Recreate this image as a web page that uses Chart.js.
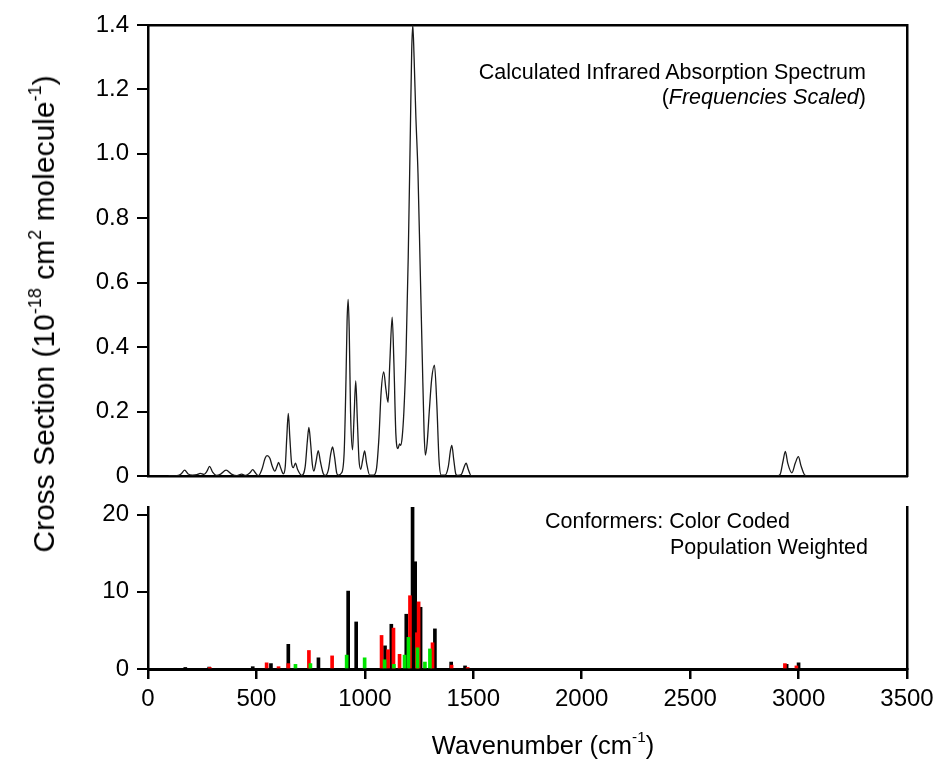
<!DOCTYPE html>
<html>
<head>
<meta charset="utf-8">
<script src="https://cdn.jsdelivr.net/npm/chart.js@4.4.1/dist/chart.umd.min.js"></script>
<style>
  body { margin: 0; background: #fff; width: 943px; height: 773px; position: relative; overflow: hidden;
         font-family: "Liberation Sans", Arial, sans-serif; color: #000; }
  #topWrap { position: absolute; left: 0; top: 0; }
  #botWrap { position: absolute; left: 0; top: 495px; }
  .note { position: absolute; font-size: 21.5px; white-space: nowrap; line-height: 1; }
  #ytitle { position: absolute; left: 44px; top: 314px; transform: translate(-50%, -50%) rotate(-90deg);
            font-size: 30px; white-space: nowrap; }
  #xtitle { position: absolute; left: 543px; top: 745px; transform: translate(-50%, -50%);
            font-size: 25.5px; white-space: nowrap; }
  sup { font-size: 0.6em; vertical-align: 0.75em; line-height: 0; }
</style>
</head>
<body>
<div id="topWrap"><canvas id="topChart" width="943" height="490"></canvas></div>
<div id="botWrap"><canvas id="botChart" width="943" height="278"></canvas></div>

<div class="note" style="right:77px; top:62px;">Calculated Infrared Absorption Spectrum</div>
<div class="note" style="right:77px; top:87px;">(<i>Frequencies Scaled</i>)</div>
<div class="note" style="left:545px; top:511px;">Conformers: Color Coded</div>
<div class="note" style="left:670px; top:537px;">Population Weighted</div>
<div id="ytitle">Cross Section (10<sup>-18</sup> cm<sup>2</sup> molecule<sup>-1</sup>)</div>
<div id="xtitle">Wavenumber (cm<sup>-1</sup>)</div>

<script>
// broadened spectrum
const spectrumX = [95, 140, 155, 169, 185, 205, 225, 241, 258, 272, 284, 298, 315, 335, 360, 385, 410, 432, 450,
  470, 483, 495, 509, 525, 540, 549, 562, 573, 585, 595, 602, 612, 624, 633, 640, 647, 654, 662, 670, 680,
  690, 708, 725, 735, 742, 750, 758, 765, 775, 785, 795, 808, 818, 832, 843, 851, 860, 870, 877, 893,
  905, 913, 918, 923, 928, 934, 943, 950, 958, 965, 973, 981, 990, 999, 1008, 1022, 1040, 1053, 1065,
  1075, 1087, 1097, 1107, 1115, 1126, 1134, 1143, 1153, 1160, 1165, 1172, 1180, 1190, 1200, 1210, 1216,
  1221, 1227, 1235, 1245, 1255, 1265, 1273, 1279, 1287, 1297, 1308, 1321, 1332, 1342, 1352, 1370, 1385,
  1395, 1401, 1410, 1420, 1428, 1445, 1460, 1467, 1477, 1490, 1550, 2900, 2915, 2928, 2939, 2950, 2969,
  2985, 2999, 3012, 3030, 3050, 3500];
const spectrumY = [0, 0.002, 0.008, 0.018, 0.006, 0.003, 0.004, 0.008, 0.005, 0.015, 0.03, 0.012, 0.002, 0.006,
  0.018, 0.006, 0.001, 0.006, 0.002, 0.01, 0.02, 0.01, 0.001, 0.02, 0.055, 0.063, 0.055, 0.03, 0.015, 0.03,
  0.042, 0.025, 0.007, 0.03, 0.12, 0.194, 0.12, 0.04, 0.026, 0.04, 0.02, 0.002, 0.03, 0.11, 0.151, 0.1,
  0.035, 0.015, 0.045, 0.079, 0.045, 0.008, 0.002, 0.02, 0.07, 0.09, 0.06, 0.01, 0.003, 0.01, 0.08, 0.3,
  0.48, 0.548, 0.45, 0.2, 0.081, 0.18, 0.295, 0.18, 0.05, 0.021, 0.05, 0.078, 0.04, 0.003, 0.003, 0.02,
  0.12, 0.26, 0.323, 0.27, 0.229, 0.35, 0.493, 0.35, 0.13, 0.085, 0.1, 0.095, 0.12, 0.2, 0.38, 0.68, 1.08,
  1.32, 1.4, 1.3, 1.12, 0.94, 0.65, 0.36, 0.14, 0.065, 0.1, 0.2, 0.3, 0.344, 0.22, 0.05, 0.003, 0.003,
  0.03, 0.08, 0.095, 0.05, 0.005, 0.002, 0.005, 0.032, 0.04, 0.02, 0.001, 0, 0, 0.005, 0.045, 0.076, 0.04,
  0.01, 0.04, 0.06, 0.03, 0.002, 0, 0];

// conformer sticks
const blackX = [172, 282, 483, 567, 647, 786, 923, 960, 1093, 1122, 1191, 1220, 1232, 1257, 1323, 1398, 1462, 2945, 3000];
const blackY = [0.2, 0.25, 0.3, 0.7, 3.2, 1.45, 10.1, 6.1, 3.0, 5.8, 7.1, 21, 13.9, 8.0, 5.2, 0.9, 0.4, 0.6, 0.8];
const redX = [285, 547, 602, 647, 742, 849, 1077, 1107, 1132, 1160, 1208, 1240, 1248, 1312, 1400, 1474, 2937, 2990];
const redY = [0.2, 0.8, 0.3, 0.7, 2.4, 1.7, 4.35, 2.5, 5.3, 1.9, 9.5, 4.7, 8.7, 3.4, 0.5, 0.2, 0.7, 0.4];
const greenX = [680, 749, 916, 999, 1091, 1134, 1183, 1201, 1243, 1277, 1300];
const greenY = [0.6, 0.7, 1.8, 1.45, 1.2, 0.6, 1.8, 4.1, 2.75, 0.9, 2.6];

const xTicks = [0, 500, 1000, 1500, 2000, 2500, 3000, 3500];
const topTicks = [0, 0.2, 0.4, 0.6, 0.8, 1.0, 1.2, 1.4];
const botTicks = [0, 10, 20];

const tickFont = { family: '"Liberation Sans", Arial, sans-serif', size: 24 };
const frame = { color: '#000', width: 2.5 };

function pts(xs, ys) {
  return xs.map((x, i) => ({ x: x, y: ys[i] }));
}
// keep label overhang from pushing the plot area around
function noPad(s) {
  s.paddingTop = 0; s.paddingBottom = 0; s.paddingLeft = 0; s.paddingRight = 0;
}
function borderOnly(pos) {
  return {
    type: 'linear', position: pos, display: true,
    ticks: { display: false }, grid: { display: false },
    border: frame,
    afterFit: (s) => {
      if (pos === 'left' || pos === 'right') s.width = 0; else s.height = 0;
      noPad(s);
    }
  };
}
function stick(xs, ys, color, order) {
  return {
    data: pts(xs, ys), xAxisID: 'x', yAxisID: 'y',
    backgroundColor: color, barThickness: 3, grouped: false, order: order
  };
}

new Chart(document.getElementById('topChart'), {
  type: 'line',
  data: {
    datasets: [{
      data: pts(spectrumX, spectrumY),
      xAxisID: 'x', yAxisID: 'y',
      borderColor: '#1a1a1a',
      borderWidth: 1.3,
      pointRadius: 0,
      cubicInterpolationMode: 'monotone',
      fill: false
    }]
  },
  options: {
    responsive: false, animation: false, devicePixelRatio: 1,
    layout: { padding: { left: 0, right: 36, top: 25, bottom: 14 } },
    plugins: { legend: { display: false }, tooltip: { enabled: false } },
    scales: {
      x: Object.assign(borderOnly('bottom'), { min: 0, max: 3500 }),
      y: {
        type: 'linear', position: 'left', min: 0, max: 1.4,
        afterBuildTicks: (s) => { s.ticks = topTicks.map((v) => ({ value: v })); },
        afterFit: (s) => { s.width = 148; noPad(s); },
        ticks: {
          font: tickFont, color: '#000', padding: 8,
          callback: (v) => (v === 0 ? '0' : Number(v).toFixed(1))
        },
        grid: { drawOnChartArea: false, color: '#000', lineWidth: 2, tickLength: 11 },
        border: frame
      },
      x2: borderOnly('top'),
      y2: borderOnly('right')
    }
  }
});

new Chart(document.getElementById('botChart'), {
  type: 'bar',
  data: {
    datasets: [
      stick(greenX, greenY, '#00e600', 0),
      stick(redX, redY, '#ff0000', 1),
      stick(blackX, blackY, '#000000', 2)
    ]
  },
  options: {
    responsive: false, animation: false, devicePixelRatio: 1,
    layout: { padding: { left: 0, right: 36, top: 12, bottom: 0 } },
    plugins: { legend: { display: false }, tooltip: { enabled: false } },
    scales: {
      x: {
        type: 'linear', position: 'bottom', min: 0, max: 3500, offset: false,
        afterBuildTicks: (s) => { s.ticks = xTicks.map((v) => ({ value: v })); },
        afterFit: (s) => { s.height = 104; noPad(s); },
        ticks: { font: tickFont, color: '#000', padding: 6, maxRotation: 0, callback: (v) => String(v) },
        grid: { drawOnChartArea: false, offset: false, color: '#000', lineWidth: 2.5, tickLength: 10 },
        border: { color: '#000', width: 3 }
      },
      y: {
        type: 'linear', position: 'left', min: 0, max: 21,
        afterBuildTicks: (s) => { s.ticks = botTicks.map((v) => ({ value: v })); },
        afterFit: (s) => { s.width = 148; noPad(s); },
        ticks: { font: tickFont, color: '#000', padding: 8 },
        grid: { drawOnChartArea: false, color: '#000', lineWidth: 2, tickLength: 11 },
        border: frame
      },
      y2: borderOnly('right')
    }
  }
});
</script>
</body>
</html>
